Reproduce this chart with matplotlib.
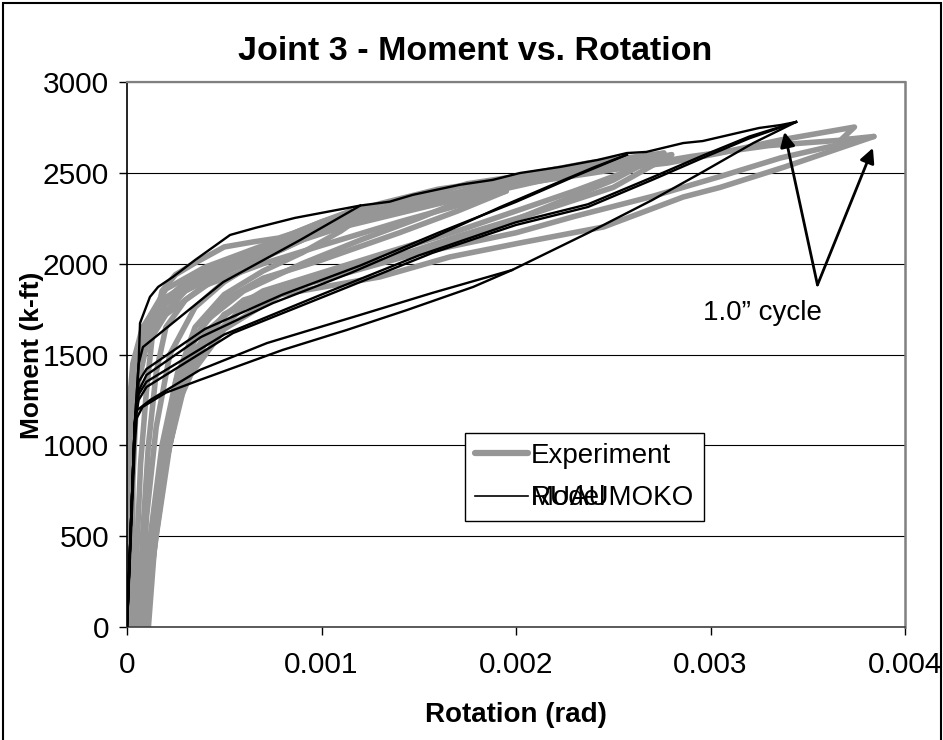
import matplotlib
matplotlib.use("Agg")
import matplotlib.pyplot as plt
from matplotlib.patches import Rectangle

# Experiment (gray) - one list pair per loading / unloading branch
exp1_up_rot = [0.00004, 0.00005, 0.00007, 0.0001, 0.00013, 0.00018, 0.00025, 0.00035, 0.0005, 0.00065, 0.00078, 0.00086, 0.001, 0.00115]
exp1_up_mom = [0, 400, 900, 1300, 1600, 1850, 1940, 2004, 2092, 2120, 2141, 2169, 2230, 2290]
exp1_dn_rot = [0.00115, 0.00105, 0.0009, 0.0007, 0.0005, 0.00035, 0.00022, 0.00015, 0.0001, 0.00007]
exp1_dn_mom = [2290, 2220, 2130, 2030, 1900, 1760, 1500, 1100, 600, 0]

exp2_up_rot = [0.00006, 0.00008, 0.00011, 0.00015, 0.0002, 0.0003, 0.0005, 0.0008, 0.001, 0.00122]
exp2_up_mom = [0, 500, 1000, 1400, 1650, 1800, 1950, 2080, 2180, 2270]
exp2_dn_rot = [0.00122, 0.0011, 0.0009, 0.0007, 0.0005, 0.00035, 0.00025, 0.00018, 0.00012, 0.00009]
exp2_dn_mom = [2270, 2180, 2060, 1960, 1830, 1650, 1350, 900, 400, 0]

exp3_up_rot = [0.00002, 0.00002, 0.00003, 0.00005, 0.0001, 0.0002, 0.0004, 0.0007, 0.001, 0.0013, 0.0016, 0.00195]
exp3_up_mom = [0, 600, 1100, 1450, 1680, 1860, 1980, 2100, 2230, 2330, 2410, 2465]
exp3_dn_rot = [0.00195, 0.0018, 0.0015, 0.0012, 0.0009, 0.0006, 0.0004, 0.00026, 0.00018, 0.00012, 0.00008]
exp3_dn_mom = [2465, 2380, 2250, 2130, 2000, 1850, 1680, 1400, 1000, 500, 0]

exp4_up_rot = [0.0, 0.0, 0.00001, 0.00003, 0.00008, 0.00018, 0.0004, 0.0008, 0.0012, 0.0015, 0.00175, 0.002, 0.00237, 0.00257, 0.00276]
exp4_up_mom = [0, 700, 1200, 1450, 1650, 1800, 1950, 2120, 2270, 2360, 2440, 2480, 2554, 2582, 2609]
exp4_dn_rot = [0.00276, 0.0026, 0.0023, 0.002, 0.0017, 0.0013, 0.001, 0.0007, 0.0005, 0.00033, 0.00022, 0.00014, 0.0001]
exp4_dn_mom = [2609, 2520, 2400, 2290, 2180, 2050, 1950, 1850, 1720, 1500, 1100, 500, 0]

exp5_up_rot = [0.00003, 0.00002, 0.00003, 0.00006, 0.00015, 0.0003, 0.0006, 0.001, 0.0014, 0.0018, 0.0022, 0.00272]
exp5_up_mom = [0, 600, 1300, 1550, 1750, 1880, 2020, 2180, 2310, 2420, 2500, 2587]
exp5_dn_rot = [0.00272, 0.0025, 0.0022, 0.0019, 0.0016, 0.0012, 0.0009, 0.0006, 0.0004, 0.00027, 0.00018, 0.00012, 0.0001]
exp5_dn_mom = [2587, 2460, 2330, 2200, 2090, 1970, 1880, 1760, 1560, 1250, 800, 300, 0]

exp6_up_rot = [0.0, 0.00001, 0.00002, 0.00006, 0.00015, 0.0003, 0.0006, 0.001, 0.0015, 0.002, 0.0025, 0.00278, 0.00305, 0.00336, 0.00374, 0.00367, 0.00384]
exp6_up_mom = [0, 800, 1300, 1550, 1750, 1900, 2050, 2200, 2350, 2450, 2520, 2554, 2609, 2681, 2752, 2681, 2700]
exp6_dn_rot = [0.00384, 0.00338, 0.00305, 0.00286, 0.00245, 0.00202, 0.00166, 0.0013, 0.00079, 0.0005, 0.0003, 0.00022, 0.00015, 0.00009]
exp6_dn_mom = [2700, 2532, 2420, 2367, 2202, 2114, 2037, 1927, 1830, 1640, 1350, 1000, 500, 0]

exp7_up_rot = [0.00001, 0.00002, 0.00004, 0.0001, 0.0002, 0.0005, 0.0009, 0.0014, 0.0019, 0.0024, 0.0029, 0.0033, 0.0038]
exp7_up_mom = [0, 900, 1350, 1600, 1780, 1990, 2150, 2300, 2420, 2500, 2590, 2650, 2690]
exp7_dn_rot = [0.0038, 0.00336, 0.00305, 0.0027, 0.0023, 0.002, 0.0016, 0.0012, 0.0008, 0.0005, 0.00032, 0.0002, 0.00013, 0.00008]
exp7_dn_mom = [2690, 2582, 2480, 2370, 2260, 2170, 2080, 1990, 1880, 1720, 1450, 1050, 450, 0]

exp8_up_rot = [0.00003, 0.00003, 0.00005, 0.0001, 0.0002, 0.0004, 0.0007, 0.001, 0.0014, 0.0018, 0.00195]
exp8_up_mom = [0, 800, 1300, 1550, 1720, 1880, 2000, 2100, 2230, 2350, 2400]
exp8_dn_rot = [0.00195, 0.0017, 0.0014, 0.001, 0.0007, 0.0005, 0.00035, 0.00024, 0.00016, 0.00011]
exp8_dn_mom = [2400, 2290, 2170, 2020, 1920, 1800, 1600, 1250, 700, 0]

exp9_up_rot = [0.00001, 0.00001, 0.00004, 0.0001, 0.0003, 0.0007, 0.0011, 0.0016, 0.0021, 0.0025, 0.0028]
exp9_up_mom = [0, 1000, 1400, 1620, 1850, 2060, 2200, 2330, 2450, 2540, 2600]
exp9_dn_rot = [0.0028, 0.0025, 0.0021, 0.0017, 0.0013, 0.0009, 0.0006, 0.0004, 0.00028, 0.0002, 0.00013, 0.0001]
exp9_dn_mom = [2600, 2420, 2280, 2150, 2010, 1900, 1800, 1620, 1300, 900, 350, 0]

# RUAUMOKO model (black)
mod_env_rot = [0.0, 0.00004, 0.00006, 0.000067, 0.000118, 0.00016, 0.000236, 0.00035, 0.00053, 0.00066, 0.000864,
               0.0012, 0.00135, 0.00147, 0.00171, 0.00188, 0.00202, 0.00223, 0.00242, 0.00257, 0.00267,
               0.00286, 0.00296, 0.00325, 0.00336, 0.00344]
mod_env_mom = [0, 1120, 1450, 1673, 1817, 1872, 1927, 2020, 2158, 2197, 2252,
               2320, 2341, 2379, 2434, 2461, 2499, 2533, 2571, 2609, 2615,
               2664, 2675, 2747, 2763, 2780]
mod_a_rot = [0.0012, 0.00089, 0.000495, 0.000082, 0.00006, 0.00004, 0.0]
mod_a_mom = [2320, 2130, 1899, 1541, 1450, 1120, 0]
mod_b1_rot = [0.0, 0.00004, 0.00006, 0.0001, 0.00038, 0.00075, 0.00115, 0.00158, 0.00192, 0.0022, 0.0024, 0.00257]
mod_b1_mom = [0, 1120, 1300, 1387, 1596, 1783, 1949, 2147, 2312, 2440, 2530, 2600]
mod_b2_rot = [0.0, 0.00004, 0.00006, 0.0001, 0.0004, 0.0008, 0.0012, 0.0016, 0.002, 0.0023, 0.00257]
mod_b2_mom = [0, 1120, 1350, 1420, 1640, 1830, 1990, 2170, 2340, 2480, 2600]
mod_c1_rot = [0.0, 0.00004, 0.00006, 0.0001, 0.000545, 0.00106, 0.00157, 0.002, 0.00237, 0.0027, 0.00296, 0.0032, 0.00344]
mod_c1_mom = [0, 1120, 1250, 1321, 1618, 1839, 2059, 2213, 2312, 2461, 2582, 2690, 2780]
mod_c2_rot = [0.0, 0.00004, 0.00006, 0.0001, 0.0005, 0.001, 0.0015, 0.002, 0.00237, 0.0027, 0.00296, 0.0032, 0.00344]
mod_c2_mom = [0, 1120, 1280, 1350, 1610, 1830, 2045, 2228, 2327, 2475, 2595, 2700, 2780]
mod_c3_rot = [0.0, 0.00004, 0.00005, 0.00008, 0.0002, 0.000375, 0.0008, 0.00113, 0.00144, 0.00178, 0.00198,
              0.00237, 0.0027, 0.00296, 0.00322, 0.00344]
mod_c3_mom = [0, 1000, 1150, 1211, 1290, 1360, 1525, 1635, 1745, 1872, 1965,
              2169, 2350, 2505, 2664, 2780]
mod_c4_rot = [0.00006, 0.00012, 0.000375, 0.00072, 0.00123, 0.00157, 0.00198]
mod_c4_mom = [1200, 1250, 1415, 1563, 1728, 1839, 1965]

exp_branches = [
    (exp1_up_rot, exp1_up_mom), (exp1_dn_rot, exp1_dn_mom),
    (exp2_up_rot, exp2_up_mom), (exp2_dn_rot, exp2_dn_mom),
    (exp3_up_rot, exp3_up_mom), (exp3_dn_rot, exp3_dn_mom),
    (exp4_up_rot, exp4_up_mom), (exp4_dn_rot, exp4_dn_mom),
    (exp5_up_rot, exp5_up_mom), (exp5_dn_rot, exp5_dn_mom),
    (exp6_up_rot, exp6_up_mom), (exp6_dn_rot, exp6_dn_mom),
    (exp7_up_rot, exp7_up_mom), (exp7_dn_rot, exp7_dn_mom),
    (exp8_up_rot, exp8_up_mom), (exp8_dn_rot, exp8_dn_mom),
    (exp9_up_rot, exp9_up_mom), (exp9_dn_rot, exp9_dn_mom),
]
mod_branches = [
    (mod_env_rot, mod_env_mom), (mod_a_rot, mod_a_mom),
    (mod_b1_rot, mod_b1_mom), (mod_b2_rot, mod_b2_mom),
    (mod_c1_rot, mod_c1_mom), (mod_c2_rot, mod_c2_mom),
    (mod_c3_rot, mod_c3_mom), (mod_c4_rot, mod_c4_mom),
]

x_ticks = [0, 0.001, 0.002, 0.003, 0.004]
x_ticklabels = ["0", "0.001", "0.002", "0.003", "0.004"]
y_ticks = [0, 500, 1000, 1500, 2000, 2500, 3000]

font = ["Liberation Sans", "DejaVu Sans"]
GRAY = "#969696"

fig = plt.figure(figsize=(9.43, 7.40), dpi=100)
ax = fig.add_axes([127 / 943, 1 - 627 / 740, 778 / 943, 545 / 740])

for rot, mom in exp_branches:
    ax.plot(rot, mom, color=GRAY, lw=4.0, solid_joinstyle="round", solid_capstyle="round", zorder=2)
for rot, mom in mod_branches:
    ax.plot(rot, mom, color="black", lw=1.7, zorder=3)

ax.set_xlim(0, 0.004)
ax.set_ylim(0, 3000)
ax.set_xticks(x_ticks)
ax.set_xticklabels(x_ticklabels)
ax.set_yticks(y_ticks)
ax.grid(axis="y", color="black", lw=0.8, zorder=1)
ax.set_axisbelow(True)
ax.tick_params(direction="out", length=6, width=1, colors="black", labelsize=21.5)
ax.tick_params(axis="x", pad=11)
ax.tick_params(axis="y", pad=7)
for lab in ax.get_xticklabels() + ax.get_yticklabels():
    lab.set_fontfamily(font)

ax.spines["top"].set_color("#808080")
ax.spines["right"].set_color("#808080")
ax.spines["top"].set_linewidth(1.6)
ax.spines["right"].set_linewidth(1.8)
ax.spines["left"].set_linewidth(1.2)
ax.spines["bottom"].set_color("#404040")
ax.spines["bottom"].set_linewidth(1.2)

# legend: two entries, the second label carries both names on top of each other
h_exp, = ax.plot([], [], color=GRAY, lw=4.5, solid_capstyle="round")
h_mod, = ax.plot([], [], color="black", lw=1.2)
leg = ax.legend([h_exp, h_mod], ["Experiment", "RUAUMOKO"], loc="upper left",
                bbox_to_anchor=((465 - 127) / 778, (627 - 433) / 545),
                prop={"family": font, "size": 20}, frameon=True, fancybox=False,
                edgecolor="black", framealpha=1, borderpad=0.35, labelspacing=0.6,
                handlelength=1.9, handletextpad=0.12, borderaxespad=0)
leg.get_frame().set_linewidth(1.0)
ax.annotate("Model", xy=(0, 0), xycoords=leg.get_texts()[1], ha="left", va="bottom",
            fontsize=20, family=font, zorder=6)

# cycle callout
tail = (0.00355, 1883)
ax.annotate("", xy=(0.00338, 2725), xytext=tail,
            arrowprops=dict(arrowstyle="-|>", color="black", lw=2, mutation_scale=22, shrinkA=0, shrinkB=0))
ax.annotate("", xy=(0.003835, 2637), xytext=tail,
            arrowprops=dict(arrowstyle="-|>", color="black", lw=2, mutation_scale=22, shrinkA=0, shrinkB=0))
ax.text(0.003265, 1729, "1.0\u201d cycle", ha="center", va="center", fontsize=20, family=font)

fig.text(475 / 943, 1 - 51 / 740, "Joint 3 - Moment vs. Rotation", ha="center", va="center",
         fontsize=24.5, fontweight="bold", family=font)
fig.text(516 / 943, 1 - 715 / 740, "Rotation (rad)", ha="center", va="center",
         fontsize=20, fontweight="bold", family=font)
fig.text(32 / 943, 1 - 355 / 740, "Moment (k-ft)", ha="center", va="center", rotation=90,
         fontsize=19, fontweight="bold", family=font)

# chart border
fig.patches.append(Rectangle((3 / 943, -0.02), 938 / 943, 1.02 - 3 / 740, transform=fig.transFigure,
                             fill=False, edgecolor="black", lw=1.5))

fig.savefig("out.png", dpi=100)
